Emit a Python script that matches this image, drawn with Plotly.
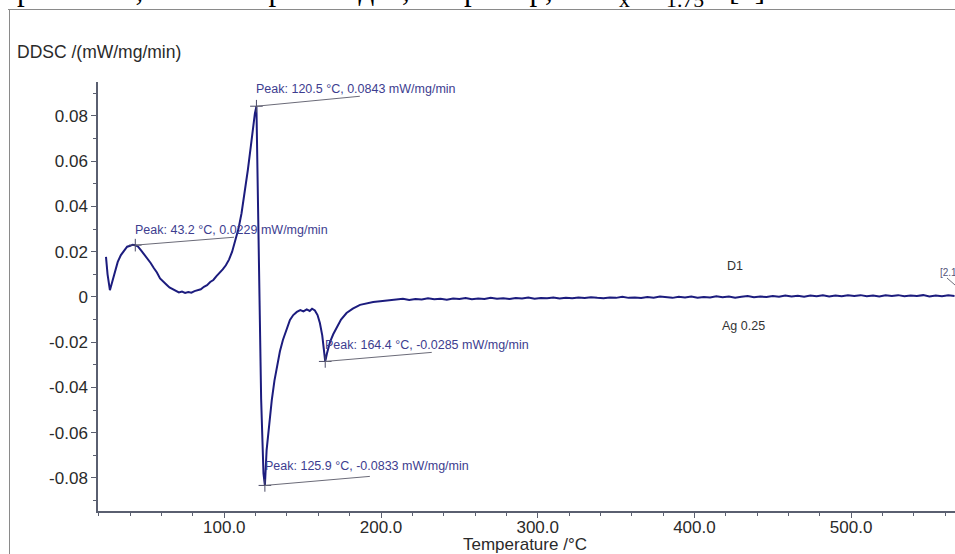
import plotly.graph_objects as go

# ---------------- data ----------------
temperature_main = [24.5, 25.5, 27.0, 28.5, 30, 32, 34, 36, 38, 40, 41.5, 43.2, 45, 47, 49, 51, 53, 55,
                    57, 59, 61, 63, 65, 67, 69, 71, 73, 75, 77, 79, 81, 83, 85, 87, 89, 91, 93, 95,
                    97, 99, 101, 103, 105, 107, 109, 111, 113, 115, 117, 118.5, 119.5, 120.5,
                    121.5, 122.3, 123.5, 125.0, 125.9, 127, 128.5, 130.3, 132, 133.5, 135.5, 137.4,
                    139.5, 141.9, 144, 146.3, 148.5, 150.5, 152.6, 154.5, 156, 157.8, 159.5, 161,
                    162.5, 163.5, 164.4, 165.5, 167.4, 169.5, 171.8, 174.5, 178, 182, 186.6, 191,
                    195, 201, 207.6]
ddsc_main = [0.0177, 0.0100, 0.0030, 0.0070, 0.0110, 0.0155, 0.0185, 0.0205, 0.0222, 0.0226, 0.0231,
             0.0229, 0.0222, 0.0205, 0.0188, 0.0172, 0.0150, 0.0128, 0.0108, 0.0082, 0.0066, 0.0055,
             0.0042, 0.0035, 0.0028, 0.0020, 0.0024, 0.0018, 0.0022, 0.0019, 0.0026, 0.0030, 0.0034,
             0.0045, 0.0052, 0.0066, 0.0075, 0.0092, 0.0105, 0.0122, 0.0140, 0.0165, 0.0200, 0.0245,
             0.0300, 0.0370, 0.0460, 0.0560, 0.0670, 0.0760, 0.0810, 0.0843,
             0.0450, 0.0000, -0.0450, -0.0780, -0.0833, -0.0677, -0.0560, -0.0456, -0.0370, -0.0310,
             -0.0240, -0.0190, -0.0145, -0.0102, -0.0080, -0.0066, -0.0058, -0.0064, -0.0055, -0.0062,
             -0.0052, -0.0060, -0.0080, -0.0115, -0.0170, -0.0230, -0.0285, -0.0250, -0.0200, -0.0165,
             -0.0133, -0.0100, -0.0071, -0.0052, -0.0035, -0.0028, -0.0022, -0.0018, -0.0013]
temperature_tail = [210, 214, 218, 222, 226, 230, 234, 238, 242, 246, 250, 254, 258, 262, 266, 270,
                    274, 278, 282, 286, 290, 294, 298, 302, 306, 310, 314, 318, 322, 326, 330, 334,
                    338, 342, 346, 350, 354, 358, 362, 366, 370, 374, 378, 382, 386, 390, 394, 398,
                    402, 406, 410, 414, 418, 422, 426, 430, 434, 438, 442, 446, 450, 454, 458, 462,
                    466, 470, 474, 478, 482, 486, 490, 494, 498, 502, 506, 510, 514, 518, 522, 526,
                    530, 534, 538, 542, 546, 550, 554, 558, 562, 566]
ddsc_tail = [-0.0012, -0.0008, -0.0013, -0.0009, -0.0011, -0.0006, -0.0010, -0.0008, -0.0012, -0.0007,
             -0.0009, -0.0005, -0.0010, -0.0007, -0.0009, -0.0004, -0.0008, -0.0006, -0.0009, -0.0005,
             -0.0007, -0.0003, -0.0008, -0.0005, -0.0006, -0.0002, -0.0007, -0.0004, -0.0006, -0.0002,
             -0.0005, -0.0001, -0.0004, -0.0006, -0.0002, -0.0004, 0.0001, -0.0004, -0.0002, -0.0005,
             0.0000, -0.0003, 0.0002, -0.0002, -0.0004, 0.0001, -0.0002, 0.0002, -0.0003, 0.0000,
             -0.0002, 0.0003, -0.0001, 0.0002, -0.0003, 0.0001, 0.0004, -0.0001, 0.0002, 0.0000,
             0.0004, 0.0001, 0.0006, 0.0002, 0.0005, 0.0001, 0.0006, 0.0003, 0.0007, 0.0002,
             0.0006, 0.0003, 0.0007, 0.0004, 0.0008, 0.0003, 0.0006, 0.0002, 0.0007, 0.0004,
             0.0008, 0.0003, 0.0006, 0.0004, 0.0008, 0.0002, 0.0006, 0.0003, 0.0007, 0.0004]

peak_temps = [43.2, 120.5, 164.4, 125.9]
peak_values = [0.0229, 0.0843, -0.0285, -0.0833]

x_tick_values = [100, 200, 300, 400, 500]
x_tick_labels = ["100.0", "200.0", "300.0", "400.0", "500.0"]
y_tick_values = [0.08, 0.06, 0.04, 0.02, 0, -0.02, -0.04, -0.06, -0.08]
y_tick_labels = ["0.08", "0.06", "0.04", "0.02", "0", "-0.02", "-0.04", "-0.06", "-0.08"]

# ---------------- layout helpers ----------------
W, H = 955, 554
ML, MR, MT, MB = 98, 0, 82, 43
PW, PH = W - ML - MR, H - MT - MB


def px(x):
    return (x - ML) / PW


def py(y):
    return (H - MB - y) / PH


line_col = "#1c1c7e"
label_col = "#3d3d8f"
axis_col = "#5a5f70"

# leader line offsets (°C, value) and label lift (px) per peak
leader_dx = [63, 66, 68, 67]
leader_dy = [0.0035, 0.0044, 0.0040, 0.0040]
label_lift = [15, 17, 16, 19]

fig = go.Figure()
fig.add_trace(go.Scatter(x=temperature_main + temperature_tail, y=ddsc_main + ddsc_tail,
                         mode="lines", line=dict(color=line_col, width=2),
                         showlegend=False, hoverinfo="skip"))

# peak leader lines
for t, v, dx, dy in zip(peak_temps, peak_values, leader_dx, leader_dy):
    fig.add_shape(type="line", xref="x", yref="y", x0=t, y0=v, x1=t + dx, y1=v + dy,
                  line=dict(color="#6b6b78", width=1))

fig.add_trace(go.Scatter(x=peak_temps, y=peak_values, mode="markers",
                         marker=dict(symbol="cross-thin", size=9,
                                     line=dict(color="#4a4a66", width=1)),
                         showlegend=False, hoverinfo="skip"))

annotations = []
for t, v, lift in zip(peak_temps, peak_values, label_lift):
    annotations.append(dict(x=t, y=v, xref="x", yref="y", showarrow=False,
                            text=f"Peak: {t:.1f} °C, {v:.4f} mW/mg/min",
                            xanchor="left", yanchor="middle", yshift=lift, xshift=-2,
                            font=dict(family="Liberation Sans, Arial", size=12.5, color=label_col)))

# axis titles and text labels
annotations.append(dict(x=px(15), y=py(52), xref="paper", yref="paper", showarrow=False,
                        text="DDSC /(mW/mg/min)", xanchor="left", yanchor="middle",
                        font=dict(family="Liberation Sans, Arial", size=17.5, color="#2a2a2a")))
annotations.append(dict(x=px(525), y=py(544), xref="paper", yref="paper", showarrow=False,
                        text="Temperature /°C", xanchor="center", yanchor="middle",
                        font=dict(family="Liberation Sans, Arial", size=17, color="#2a2a2a")))
annotations.append(dict(x=px(735), y=py(266), xref="paper", yref="paper", showarrow=False,
                        text="D1", xanchor="center", yanchor="middle",
                        font=dict(family="Liberation Sans, Arial", size=12.5, color="#333333")))
annotations.append(dict(x=px(743), y=py(326), xref="paper", yref="paper", showarrow=False,
                        text="Ag 0.25", xanchor="center", yanchor="middle",
                        font=dict(family="Liberation Sans, Arial", size=12.5, color="#333333")))
annotations.append(dict(x=px(938), y=py(272), xref="paper", yref="paper", showarrow=False,
                        text="[2.1", xanchor="left", yanchor="middle",
                        font=dict(family="Liberation Sans, Arial", size=10, color="#55557a")))
# document text cut off at the top of the page
annotations.append(dict(x=px(775), y=py(-8), xref="paper", yref="paper", showarrow=False,
                        text="кристалла, как это происходит, например, в Na<sub>x</sub>Cu<sub>1.75</sub>S [6].",
                        xanchor="right", yanchor="middle",
                        font=dict(family="Liberation Serif, Times New Roman", size=31, color="#000000")))

shapes_frame = [
    dict(type="line", xref="paper", yref="paper", x0=px(8), x1=px(955), y0=py(9.5), y1=py(9.5),
         line=dict(color="#8a8a8a", width=1)),
    dict(type="line", xref="paper", yref="paper", x0=px(9.5), x1=px(9.5), y0=py(9), y1=py(554),
         line=dict(color="#8a8a8a", width=1)),
    dict(type="line", xref="paper", yref="paper", x0=px(947), x1=px(955), y0=py(278), y1=py(285),
         line=dict(color="#6b6b78", width=1)),
]
for s in shapes_frame:
    fig.add_shape(**s)

fig.update_layout(
    width=W, height=H, margin=dict(l=ML, r=MR, t=MT, b=MB, pad=0),
    paper_bgcolor="white", plot_bgcolor="white",
    annotations=annotations, showlegend=False,
    xaxis=dict(range=[19.4, 566.3], showgrid=False, zeroline=False, showline=True,
               linecolor=axis_col, linewidth=1.5, ticks="outside", ticklen=5, tickcolor=axis_col,
               tickvals=x_tick_values, ticktext=x_tick_labels, ticklabelstandoff=-5,
               tickfont=dict(family="Liberation Sans, Arial", size=17, color="#2a2a2a"),
               minor=dict(dtick=20, tick0=0, ticks="outside", ticklen=3, tickcolor=axis_col)),
    yaxis=dict(range=[-0.0946, 0.095], showgrid=False, zeroline=False, showline=True,
               linecolor=axis_col, linewidth=1.5, ticks="outside", ticklen=5, tickcolor=axis_col,
               tickvals=y_tick_values, ticktext=y_tick_labels,
               tickfont=dict(family="Liberation Sans, Arial", size=17, color="#2a2a2a"),
               minor=dict(dtick=0.01, tick0=0, ticks="outside", ticklen=3, tickcolor=axis_col)),
)

fig.write_html("out.html", post_script="document.body.style.margin='0';",
               config={"displayModeBar": False})
